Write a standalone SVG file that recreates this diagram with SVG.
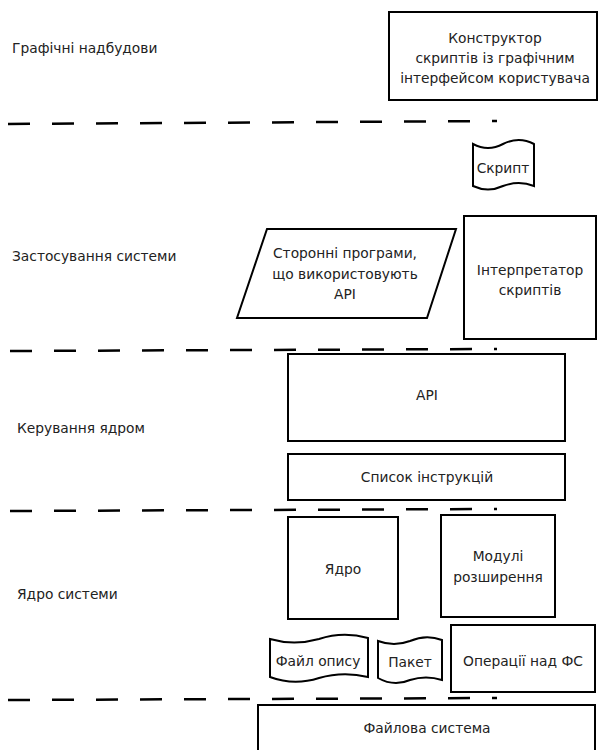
<svg xmlns="http://www.w3.org/2000/svg" width="600" height="750" viewBox="0 0 600 750">
<style>
text{font-family:"DejaVu Sans","Noto Sans",sans-serif;font-size:13.8px;fill:#222;}
.c{text-anchor:middle;}
.box{fill:#fff;stroke:#000;stroke-width:2;}
.dash{fill:none;stroke:#000;stroke-width:2.5;stroke-dasharray:22 22;}
</style>
<rect width="600" height="750" fill="#fff"/>
<g id="separators">
<path class="dash" d="M8,124 L497,121"/>
<path class="dash" d="M10,351 L497,349"/>
<path class="dash" d="M10,511 L497,509"/>
<path class="dash" d="M8,700 L497,698"/>
</g>
<g id="layer-labels">
<text x="12" y="53">Графічні надбудови</text>
<text x="12" y="261">Застосування системи</text>
<text x="17" y="433">Керування ядром</text>
<text x="17" y="599">Ядро системи</text>
</g>
<g id="constructor">
<rect class="box" x="389" y="12" width="208" height="88"/>
<text class="c" x="495" y="43">Конструктор</text>
<text class="c" x="495" y="63">скриптів із графічним</text>
<text class="c" x="495" y="83">інтерфейсом користувача</text>
</g>
<g id="script">
<path class="box" d="M473,144 Q488,152 503,144 Q519,136 534,144 L534,186 Q519,180 503,186 Q488,193 473,186 Z"/>
<text class="c" x="503" y="173">Скрипт</text>
</g>
<g id="third-party">
<path class="box" d="M267,229 L456,229 L427,318 L237,318 Z"/>
<text class="c" x="345" y="258">Сторонні програми,</text>
<text class="c" x="345" y="279">що використовують</text>
<text class="c" x="345" y="299">API</text>
</g>
<g id="interpreter">
<rect class="box" x="464" y="216" width="132" height="123"/>
<text class="c" x="530" y="275">Інтерпретатор</text>
<text class="c" x="530" y="295">скриптів</text>
</g>
<g id="api">
<rect class="box" x="288" y="354" width="277" height="87"/>
<text class="c" x="427" y="400">API</text>
</g>
<g id="instructions">
<rect class="box" x="288" y="454" width="277" height="46"/>
<text class="c" x="427" y="482">Список інструкцій</text>
</g>
<g id="core">
<rect class="box" x="288" y="517" width="110" height="102"/>
<text class="c" x="343" y="574">Ядро</text>
</g>
<g id="modules">
<rect class="box" x="441" y="515" width="114" height="102"/>
<text class="c" x="498" y="561">Модулі</text>
<text class="c" x="498" y="582">розширення</text>
</g>
<g id="descr-file">
<path class="box" d="M270,639 Q294,646 319,639 Q343,631 368,638 L368,677 Q343,671 319,678 Q294,686 270,677 Z"/>
<text class="c" x="318" y="666">Файл опису</text>
</g>
<g id="package">
<path class="box" d="M378,641 Q394,647 410,641 Q426,634 442,640 L442,680 Q426,675 410,680 Q394,687 378,678 Z"/>
<text class="c" x="410" y="667">Пакет</text>
</g>
<g id="fs-ops">
<rect class="box" x="451" y="625" width="144" height="67"/>
<text class="c" x="523" y="666">Операції над ФС</text>
</g>
<g id="filesystem">
<rect class="box" x="258" y="705" width="337" height="50"/>
<text class="c" x="427" y="733">Файлова система</text>
</g>
<g id="connectors"></g>
</svg>
